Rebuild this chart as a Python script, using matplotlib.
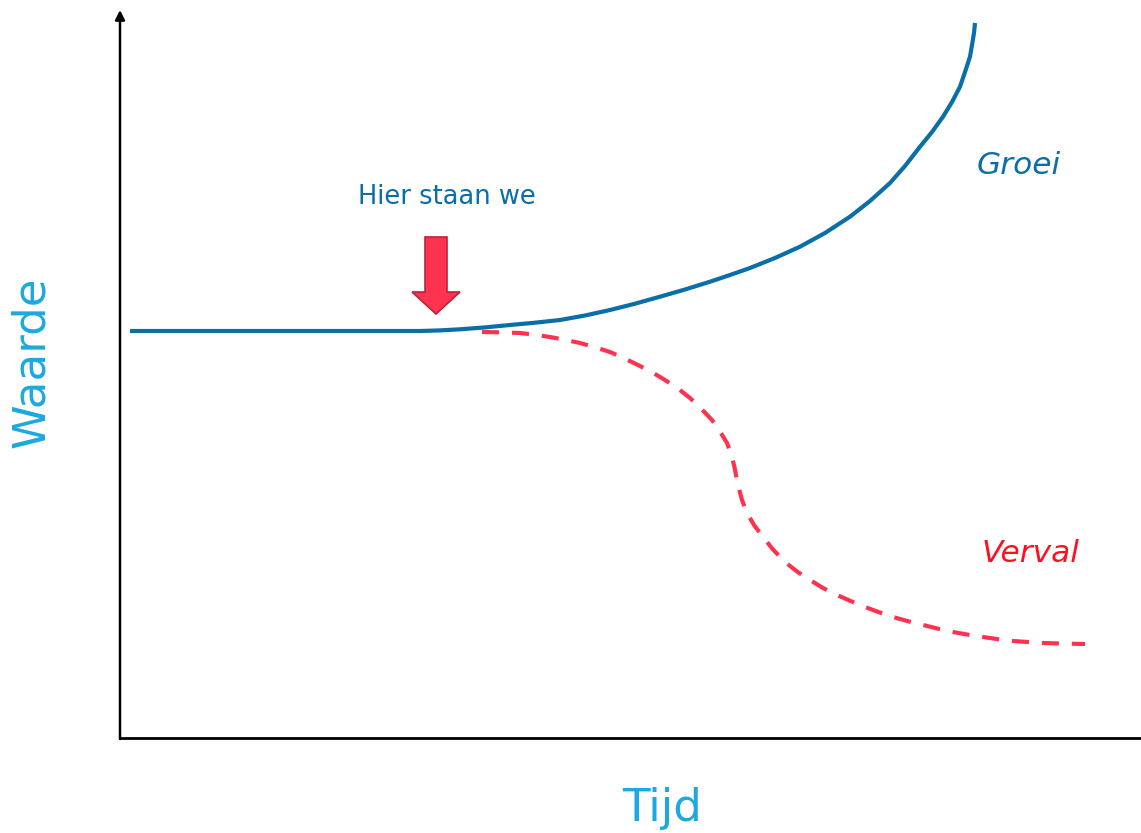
import matplotlib
matplotlib.use('Agg')
import matplotlib.pyplot as plt
import matplotlib.patches as mpatches

# Curve points (x = time, y = value)
groei_x = [10, 300, 320, 340, 365, 390, 415, 440, 465, 490, 515, 540, 565, 590, 610,
           630, 655, 680, 705, 730, 750, 770, 785, 800, 812, 823, 832, 840, 845,
           850, 852, 854, 855]
groei_y = [407, 407, 407.6, 408.7, 410.6, 413, 415.3, 418, 422.5, 428, 434.3, 441.3,
           448.5, 456.3, 463, 470, 480, 491.3, 505, 521.3, 537, 555, 572, 591.3, 606,
           621.3, 636, 651.3, 666, 681.3, 693, 705, 715]

verval_x = [362, 380, 400, 415, 430, 445, 460, 475, 490, 504, 518, 532, 545, 558,
            570, 581, 592, 600, 607, 611, 614, 616, 618, 620, 622, 627, 634, 643,
            653, 665, 677, 690, 703, 717, 731, 745, 759, 773, 788, 803, 818, 833,
            848, 863, 878, 893, 908, 923, 945, 965]
verval_y = [406, 405.7, 405, 403.3, 401, 398.2, 395, 390.8, 386, 379.8, 373, 365.8,
            358, 349.5, 340, 329.5, 318, 306.5, 295, 284, 273, 263, 253, 245.5, 238,
            225, 213, 201, 188.5, 176, 166.5, 158, 150, 143, 136.8, 131, 125.8, 121,
            116.8, 113, 109.3, 106, 103.3, 101, 98.8, 97, 96, 95, 94.4, 94]

GROEI_COLOR = '#0A6EA8'
VERVAL_COLOR = '#FF3350'
LABEL_COLOR = '#1BA9E0'

fig = plt.figure(figsize=(11.41, 8.33), dpi=100)
ax = fig.add_axes([120 / 1141, 95 / 833, 1021 / 1141, 728 / 833])
ax.set_xlim(0, 1021)
ax.set_ylim(0, 728)

ax.plot(groei_x, groei_y, color=GROEI_COLOR, lw=3.0, solid_capstyle='butt',
        solid_joinstyle='round', zorder=3)
ax.plot(verval_x, verval_y, color=VERVAL_COLOR, lw=3.0, dashes=(4.1, 3.1),
        dash_joinstyle='round', zorder=2)

# axes: left spine with arrow, bottom spine to the edge
for s in ['top', 'right', 'left']:
    ax.spines[s].set_visible(False)
ax.spines['bottom'].set_linewidth(2.0)
ax.annotate('', xy=(0, 728), xytext=(0, -1),
            arrowprops=dict(arrowstyle='-|>', color='black', lw=1.8,
                            mutation_scale=14, shrinkA=0, shrinkB=0),
            annotation_clip=False)
ax.set_xticks([])
ax.set_yticks([])

# "Hier staan we" arrow
arrow = mpatches.FancyArrow(316, 501, 0, -77, width=22, head_width=48, head_length=22,
                            length_includes_head=True, facecolor='#FF3350',
                            edgecolor='#C0203A', lw=1.2, zorder=4)
ax.add_patch(arrow)
ax.text(327, 541, 'Hier staan we', color=GROEI_COLOR, fontsize=18.5,
        ha='center', va='center')

ax.text(899, 572, 'Groei', color=GROEI_COLOR, fontsize=22.5, style='italic',
        ha='center', va='center')
ax.text(911, 185, 'Verval', color='#FF1020', fontsize=22.5, style='italic',
        ha='center', va='center')

fig.text(32 / 1141, 1 - 362 / 833, 'Waarde', color=LABEL_COLOR, fontsize=32.5,
         rotation=90, ha='center', va='center')
fig.text(662 / 1141, 1 - 808 / 833, 'Tijd', color=LABEL_COLOR, fontsize=32.5,
         ha='center', va='center')

fig.savefig('out.png', dpi=100)
